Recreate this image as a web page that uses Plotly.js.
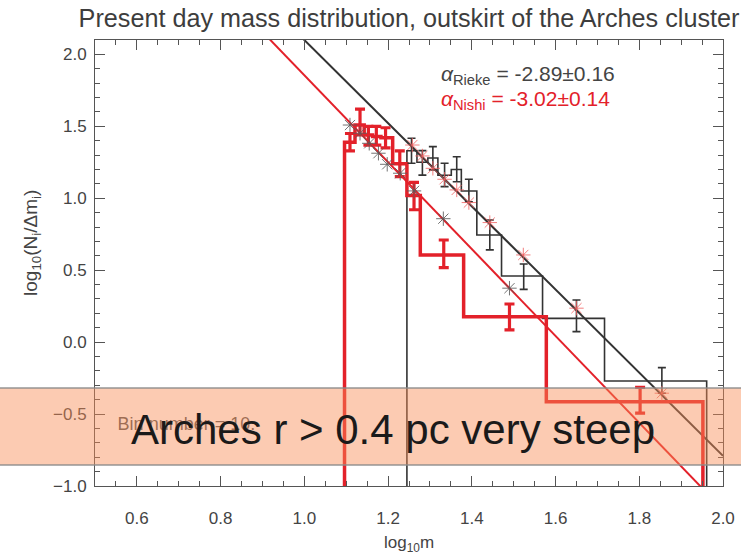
<!DOCTYPE html>
<html>
<head>
<meta charset="utf-8">
<script src="https://cdn.plot.ly/plotly-3.0.1.min.js"></script>
<style>
  html, body { margin: 0; padding: 0; background: #ffffff; }
  #chart { width: 741px; height: 555px; }
</style>
</head>
<body>
<div id="chart"></div>
<script>
// Mass function of the Arches outskirts: two extinction-law versions (Rieke, Nishiyama)

// Rieke histogram: bin edges in log10 m and log10(N_i / dm_i) per bin
const riekeEdges  = [1.245, 1.269, 1.295, 1.319, 1.351, 1.375, 1.412, 1.471, 1.569, 1.717, 1.961];
const riekeLevels = [1.33, 1.25, 1.28, 1.16, 1.20, 1.05, 0.745, 0.46, 0.165, -0.27];
// Rieke error bars (at mean mass of each bin)
const riekeErrX   = [1.256, 1.282, 1.307, 1.335, 1.364, 1.393, 1.443, 1.524, 1.650, 1.854];
const riekeErrY   = [1.33, 1.246, 1.278, 1.162, 1.202, 1.054, 0.745, 0.455, 0.183, -0.266];
const riekeErrD   = [0.087, 0.085, 0.081, 0.081, 0.087, 0.078, 0.104, 0.088, 0.11, 0.089];

// Nishiyama histogram
const nishiEdges  = [1.096, 1.121, 1.143, 1.163, 1.183, 1.211, 1.245, 1.277, 1.3805, 1.578, 1.952];
const nishiLevels = [1.39, 1.51, 1.44, 1.43, 1.42, 1.24, 1.02, 0.606, 0.176, -0.414];
const nishiErrX   = [1.109, 1.133, 1.153, 1.172, 1.194, 1.228, 1.262, 1.333, 1.490, 1.802];
const nishiErrY   = [1.39, 1.53, 1.435, 1.435, 1.42, 1.24, 1.015, 0.614, 0.175, -0.404];
const nishiErrD   = [0.06, 0.09, 0.065, 0.065, 0.07, 0.09, 0.095, 0.096, 0.09, 0.09];

// Model points evaluated at each bin's mean mass
const riekeModelX = [1.258, 1.282, 1.307, 1.335, 1.364, 1.393, 1.443, 1.523, 1.650, 1.854];
const riekeModelY = [1.370, 1.294, 1.208, 1.132, 1.058, 0.970, 0.831, 0.606, 0.236, -0.355];
const nishiModelX = [1.109, 1.133, 1.155, 1.177, 1.198, 1.229, 1.262, 1.332, 1.490];
const nishiModelY = [1.509, 1.452, 1.382, 1.313, 1.236, 1.174, 1.051, 0.858, 0.375];

// Power-law fits: log10(N/dm) = intercept + alpha * log10 m
const alphaRieke = -2.89, alphaRiekeErr = 0.16, interceptRieke = 4.99;
const alphaNishi = -3.02, alphaNishiErr = 0.14, interceptNishi = 4.875;
const fitX = [0.5, 2.0];

const binNote = 'Bin number = 10.';
const bandNote = 'Arches r > 0.4 pc very steep';

const BLACK = '#333333';
const RED = '#e3212a';
const FLOOR = -1.6; // histogram outline drops below the visible axis

function stepTrace(edges, levels, color, width) {
  const xs = [edges[0]], ys = [FLOOR];
  for (let i = 0; i < levels.length; i++) { xs.push(edges[i]); ys.push(levels[i]); }
  xs.push(edges[edges.length - 1]); ys.push(FLOOR);
  return { x: xs, y: ys, type: 'scatter', mode: 'lines',
           line: { shape: 'hv', color: color, width: width }, hoverinfo: 'skip' };
}

function errTrace(xs, ys, ds, color, thick, capw) {
  return { x: xs, y: ys, type: 'scatter', mode: 'markers',
           marker: { size: 1, color: 'rgba(0,0,0,0)' },
           error_y: { type: 'data', array: ds, visible: true, color: color, thickness: thick, width: capw } };
}

function fitTrace(alpha, b, color) {
  return { x: fitX, y: fitX.map(v => b + alpha * v), type: 'scatter', mode: 'lines',
           line: { color: color, width: 2 }, hoverinfo: 'skip' };
}

const traces = [
  fitTrace(alphaRieke, interceptRieke, BLACK),
  fitTrace(alphaNishi, interceptNishi, RED),
  stepTrace(riekeEdges, riekeLevels, BLACK, 1.6),
  stepTrace(nishiEdges, nishiLevels, RED, 3.5),
  errTrace(riekeErrX, riekeErrY, riekeErrD, BLACK, 1.6, 4),
  errTrace(nishiErrX, nishiErrY, nishiErrD, RED, 3.2, 5),
  { x: riekeModelX, y: riekeModelY, type: 'scatter', mode: 'markers',
    marker: { symbol: 'asterisk-open', size: 12, color: 'rgba(240,95,95,0.8)',
              line: { color: 'rgba(240,95,95,0.8)', width: 1 } } },
  { x: nishiModelX, y: nishiModelY, type: 'scatter', mode: 'markers',
    marker: { symbol: 'asterisk-open', size: 12, color: 'rgba(90,90,90,0.85)',
              line: { color: 'rgba(90,90,90,0.85)', width: 1 } } },
  { x: [0.554], y: [-0.582], type: 'scatter', mode: 'text', text: [binNote],
    textposition: 'middle right', textfont: { family: 'Liberation Sans, Arial, sans-serif', size: 18, color: '#555555' },
    hoverinfo: 'skip' }
];

const axisCommon = {
  showline: true, linecolor: '#555555', linewidth: 1, mirror: 'ticks',
  ticks: 'inside', ticklen: 10, tickwidth: 1, tickcolor: '#555555',
  showgrid: false, zeroline: false, tickformat: '.1f',
  tickfont: { size: 17, color: '#444444' }
};

const layout = {
  width: 741, height: 555,
  margin: { l: 95, r: 18, t: 40, b: 69 },
  paper_bgcolor: '#ffffff', plot_bgcolor: '#ffffff',
  showlegend: false,
  font: { family: 'Liberation Sans, Arial, sans-serif', color: '#444444' },
  title: { text: 'Present day mass distribution, outskirt of the Arches cluster',
           x: 0.5, xref: 'paper', y: 1 - 18 / 555, yref: 'container', yanchor: 'middle',
           font: { size: 25.2, color: '#3d3d3d' } },
  xaxis: Object.assign({}, axisCommon, {
    range: [0.5, 2.0], tick0: 0, dtick: 0.2,
    minor: { dtick: 0.05, ticks: 'inside', ticklen: 5, tickcolor: '#555555', showgrid: false },
    ticklabelstandoff: 17,
    title: { text: 'log<sub>10</sub>m', font: { size: 17, color: '#444444' }, standoff: 9 }
  }),
  yaxis: Object.assign({}, axisCommon, {
    range: [-1.0, 2.1], tick0: 0, dtick: 0.5,
    minor: { dtick: 0.1, ticks: 'inside', ticklen: 5, tickcolor: '#555555', showgrid: false },
    ticklabelstandoff: 4
  }),
  shapes: [
    { type: 'rect', xref: 'paper', yref: 'paper', x0: -0.2, x1: 1.1, y0: 0.0471, y1: 0.2197,
      fillcolor: 'rgba(249,140,84,0.45)', line: { color: 'rgba(140,140,140,0.9)', width: 1.5 }, layer: 'above' }
  ],
  annotations: [
    { xref: 'paper', yref: 'paper', x: -0.1003, y: 0.545, xanchor: 'center', yanchor: 'middle', showarrow: false,
      textangle: -90, text: 'log<sub>10</sub>(N<sub>i</sub>/Δm<sub>i</sub>)',
      font: { size: 19, color: '#444444' } },
    { xref: 'paper', yref: 'paper', x: 0.547, y: 0.9215, xanchor: 'left', yanchor: 'middle', showarrow: false,
      text: '<i>α</i><sub>Rieke</sub> = ' + alphaRieke.toFixed(2) + '±' + alphaRiekeErr.toFixed(2),
      font: { size: 21, color: '#444444' } },
    { xref: 'paper', yref: 'paper', x: 0.547, y: 0.865, xanchor: 'left', yanchor: 'middle', showarrow: false,
      text: '<i>α</i><sub>Nishi</sub> = ' + alphaNishi.toFixed(2) + '±' + alphaNishiErr.toFixed(2),
      font: { size: 21, color: RED } },
    { xref: 'paper', yref: 'paper', x: 0.475, y: 0.127, xanchor: 'center', yanchor: 'middle', showarrow: false,
      text: bandNote, font: { family: 'Liberation Sans, Arial, sans-serif', size: 42, color: '#1a1a1a' } }
  ]
};

Plotly.newPlot('chart', traces, layout, { staticPlot: true, displayModeBar: false });
</script>
</body>
</html>
